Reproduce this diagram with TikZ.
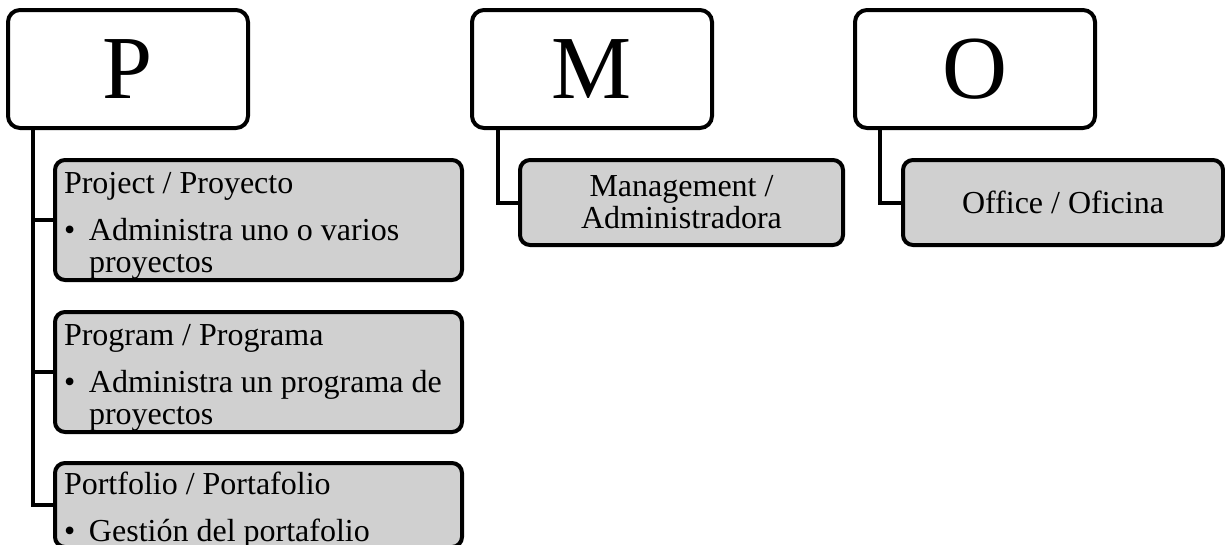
\documentclass[tikz,border=0pt]{standalone}
\usepackage{fontspec}
\setmainfont{Liberation Serif}
\usetikzlibrary{positioning,calc}
\definecolor{boxgray}{RGB}{208,208,208}
\newcommand{\bulletline}[1]{\par\vspace{15pt}\noindent\makebox[25pt][l]{\textbullet}\parbox[t]{364pt}{\raggedright #1}}

\begin{document}
\begin{tikzpicture}[
    letterbox/.style={rectangle, draw, line width=4pt, rounded corners=12pt, fill=white, minimum width=240pt, minimum height=118pt, inner sep=0pt, outer sep=0pt, font=\fontsize{90pt}{90pt}\selectfont},
    itembox/.style={rectangle, draw, line width=4pt, rounded corners=10pt, fill=boxgray, inner sep=0pt, outer sep=0pt, font=\fontsize{32pt}{32pt}\selectfont},
    listbox/.style={itembox, align=flush left, text width=389pt, inner xsep=9pt, inner ysep=0pt, text height=33pt, text depth=87pt},
    link/.style={line width=4pt}
  ]
    \useasboundingbox (0,0) rectangle (1225pt,-544pt);

    % Letter boxes
    \node (P) [letterbox, anchor=north west] at (8pt,-10pt) {P};
    \node (M) [letterbox, right=224pt of P] {M};
    \node (O) [letterbox, right=143pt of M] {O};

    % P list
    \node (proj) [listbox, below right=32pt and 47pt of P.south west] {Project / Proyecto\bulletline{Administra uno o varios proyectos}};
    \node (prog) [listbox, below=32pt of proj] {Program / Programa\bulletline{Administra un programa de proyectos}};
    \node (port) [listbox, text height=31pt, text depth=53pt, below=31pt of prog] {Portfolio / Portafolio\bulletline{Gestión del portafolio}};

    % M and O boxes
    \node (mgmt) [itembox, align=center, minimum width=323pt, minimum height=85pt, below right=32pt and 48pt of M.south west] {Management /\\Administradora};
    \node (offi) [itembox, minimum width=320pt, minimum height=85pt, below right=32pt and 48pt of O.south west] {Office / Oficina};

    % Links
    \draw [link] ([xshift=25pt]P.south west) |- (proj.west);
    \draw [link] ([xshift=25pt]P.south west) |- (prog.west);
    \draw [link] ([xshift=25pt]P.south west) |- (port.west);
    \draw [link] ([xshift=26pt]M.south west) |- (mgmt.west);
    \draw [link] ([xshift=25pt]O.south west) |- (offi.west);
\end{tikzpicture}
\end{document}
